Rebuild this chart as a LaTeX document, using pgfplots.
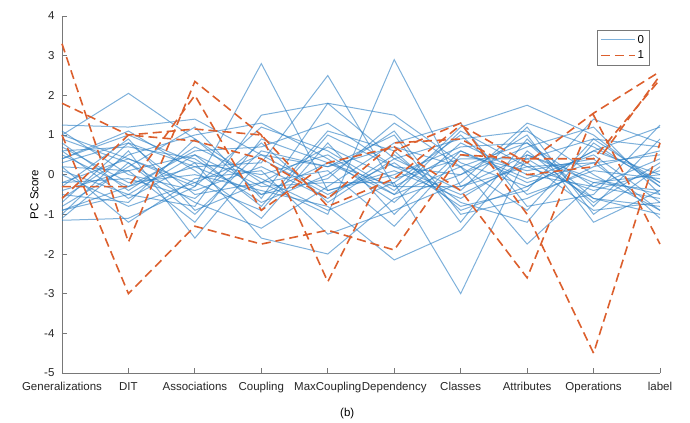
\documentclass[border=0pt]{standalone}
\usepackage{pgfplots}
\pgfplotsset{compat=1.18}
\usepackage{fontspec}
\setmainfont{Liberation Sans}
\definecolor{mblue}{RGB}{40,125,195}
\definecolor{morange}{RGB}{220,95,45}
\definecolor{axgray}{RGB}{120,120,120}
\begin{document}
\begin{tikzpicture}
\begin{axis}[
  name=ax,
  width=598pt, height=357pt, scale only axis,
  xmin=1, xmax=10, ymin=-5, ymax=4,
  axis lines*=left,
  axis line style={axgray, line width=0.9pt},
  tick style={axgray, line width=0.9pt},
  tick align=inside,
  major tick length=5pt,
  xtick={1,...,10},
  xticklabels={Generalizations,DIT,Associations,Coupling,MaxCoupling,Dependency,Classes,Attributes,Operations,label},
  ytick={-5,-4,...,4},
  /pgf/number format/assume math mode=true,
  tick label style={font=\fontsize{11.5}{13}\selectfont, text=black!85},
  xticklabel style={yshift=-6pt},
  yticklabel style={xshift=-4pt},
  ylabel={PC Score},
  ylabel style={font=\fontsize{11.5}{13}\selectfont, yshift=-1pt},
  xlabel={(b)},
  xlabel style={font=\fontsize{11.5}{13}\selectfont, at={(axis description cs:0.477,-0.088)}, anchor=north},
  legend style={at={(axis description cs:0.982,0.961)}, anchor=north east,
    draw=axgray, font=\fontsize{11.5}{13}\selectfont, inner sep=3pt, row sep=2pt},
  legend cell align=left,
  legend image code/.code={\draw[#1] (0pt,0pt) -- (34pt,0pt);},
  clip=false,
]
\tikzset{bl/.style={mblue, opacity=0.6, line width=1pt},
         or/.style={morange, line width=1.6pt, dash pattern=on 9pt off 5pt}}
% class 0
\addplot[bl] coordinates {(1,1.00)(2,2.05)(3,0.90)(4,-0.50)(5,0.30)(6,-0.50)(7,0.20)(8,0.80)(9,-0.30)(10,-0.60)};
\addlegendentry{0}
\addplot[bl, forget plot] coordinates {(1,-0.20)(2,0.40)(3,-0.30)(4,2.80)(5,-0.40)(6,0.10)(7,-0.60)(8,0.40)(9,0.90)(10,-0.20)};
\addplot[bl, forget plot] coordinates {(1,0.50)(2,-0.30)(3,0.20)(4,0.30)(5,2.50)(6,-0.30)(7,0.60)(8,-0.20)(9,0.30)(10,0.50)};
\addplot[bl, forget plot] coordinates {(1,0.30)(2,0.80)(3,-0.50)(4,-0.20)(5,-1.00)(6,2.90)(7,-0.30)(8,0.20)(9,-0.40)(10,0.10)};
\addplot[bl, forget plot] coordinates {(1,-0.40)(2,0.10)(3,0.50)(4,-0.30)(5,-0.20)(6,-0.20)(7,-3.00)(8,0.50)(9,-0.10)(10,-0.50)};
\addplot[bl, forget plot] coordinates {(1,0.10)(2,-0.50)(3,-0.80)(4,1.50)(5,1.80)(6,0.40)(7,0.90)(8,1.10)(9,0.00)(10,-0.90)};
\addplot[bl, forget plot] coordinates {(1,-0.80)(2,0.20)(3,1.20)(4,-0.60)(5,1.80)(6,1.50)(7,0.30)(8,-0.30)(9,0.60)(10,1.20)};
\addplot[bl, forget plot] coordinates {(1,0.70)(2,-0.20)(3,0.00)(4,-0.40)(5,-0.80)(6,-2.15)(7,-1.40)(8,0.60)(9,-0.70)(10,0.30)};
\addplot[bl, forget plot] coordinates {(1,-1.15)(2,-1.10)(3,-0.30)(4,1.20)(5,0.60)(6,-0.40)(7,1.20)(8,1.75)(9,1.00)(10,-0.30)};
\addplot[bl, forget plot] coordinates {(1,1.25)(2,1.20)(3,1.40)(4,0.50)(5,0.20)(6,0.70)(7,0.20)(8,-1.75)(9,-0.20)(10,0.00)};
\addplot[bl, forget plot] coordinates {(1,-1.00)(2,0.60)(3,-1.60)(4,0.40)(5,-0.50)(6,0.30)(7,-0.80)(8,-0.40)(9,1.40)(10,0.80)};
\addplot[bl, forget plot] coordinates {(1,0.40)(2,1.00)(3,0.30)(4,-1.60)(5,-2.00)(6,-0.60)(7,0.00)(8,1.00)(9,-1.20)(10,-0.40)};
\addplot[bl, forget plot] coordinates {(1,-0.50)(2,-0.70)(3,0.90)(4,-0.20)(5,0.10)(6,-1.30)(7,0.50)(8,0.10)(9,0.40)(10,-1.10)};
\addplot[bl, forget plot] coordinates {(1,0.90)(2,0.30)(3,-0.70)(4,-1.35)(5,-0.30)(6,0.80)(7,1.30)(8,-0.80)(9,-0.50)(10,1.25)};
\addplot[bl, forget plot] coordinates {(1,-0.90)(2,-0.30)(3,0.60)(4,0.70)(5,1.30)(6,0.20)(7,-0.50)(8,0.30)(9,-0.90)(10,-0.70)};
\addplot[bl, forget plot] coordinates {(1,0.20)(2,-1.20)(3,-0.10)(4,0.10)(5,-1.50)(6,-0.90)(7,-0.20)(8,1.30)(9,0.70)(10,-0.20)};
\addplot[bl, forget plot] coordinates {(1,0.60)(2,0.70)(3,0.40)(4,-0.70)(5,0.00)(6,1.10)(7,-1.00)(8,-0.60)(9,0.20)(10,0.60)};
\addplot[bl, forget plot] coordinates {(1,-0.30)(2,0.90)(3,-0.90)(4,-0.20)(5,0.70)(6,-0.10)(7,0.40)(8,0.40)(9,-0.60)(10,-0.80)};
\addplot[bl, forget plot] coordinates {(1,1.10)(2,0.00)(3,-0.40)(4,0.20)(5,-0.60)(6,0.50)(7,-0.70)(8,-1.20)(9,0.80)(10,-0.30)};
\addplot[bl, forget plot] coordinates {(1,-0.60)(2,0.50)(3,1.00)(4,1.30)(5,0.40)(6,-0.70)(7,0.80)(8,0.00)(9,-0.30)(10,0.40)};
\addplot[bl, forget plot] coordinates {(1,0.00)(2,-0.80)(3,-0.20)(4,-0.90)(5,1.00)(6,0.20)(7,0.00)(8,0.70)(9,1.20)(10,-0.50)};
\addplot[bl, forget plot] coordinates {(1,0.80)(2,-0.40)(3,0.70)(4,-0.10)(5,-0.90)(6,-0.20)(7,1.00)(8,-0.50)(9,0.10)(10,-0.10)};
\addplot[bl, forget plot] coordinates {(1,-1.10)(2,0.30)(3,-1.00)(4,0.60)(5,0.20)(6,1.00)(7,-1.20)(8,0.90)(9,-0.80)(10,0.90)};
\addplot[bl, forget plot] coordinates {(1,0.40)(2,1.10)(3,0.10)(4,-1.10)(5,0.80)(6,-1.00)(7,0.60)(8,-0.10)(9,0.50)(10,-0.70)};
\addplot[bl, forget plot] coordinates {(1,-0.20)(2,-0.10)(3,-0.60)(4,0.80)(5,-0.70)(6,0.40)(7,-0.40)(8,1.20)(9,-1.00)(10,0.20)};
\addplot[bl, forget plot] coordinates {(1,0.60)(2,-0.60)(3,0.30)(4,0.00)(5,0.50)(6,-0.50)(7,1.10)(8,0.20)(9,0.30)(10,-0.90)};
\addplot[bl, forget plot] coordinates {(1,-0.70)(2,0.80)(3,0.20)(4,-0.50)(5,-0.10)(6,1.30)(7,0.20)(8,-0.90)(9,0.90)(10,0.70)};
\addplot[bl, forget plot] coordinates {(1,0.20)(2,0.10)(3,-1.20)(4,0.90)(5,0.30)(6,-0.30)(7,-0.30)(8,0.50)(9,-0.20)(10,-0.40)};
\addplot[bl, forget plot] coordinates {(1,-0.90)(2,-0.50)(3,0.50)(4,-0.80)(5,1.10)(6,0.60)(7,-0.90)(8,-0.30)(9,0.60)(10,0.00)};
\addplot[bl, forget plot] coordinates {(1,1.00)(2,0.40)(3,-0.20)(4,0.50)(5,-0.40)(6,0.00)(7,0.70)(8,0.80)(9,-0.60)(10,-1.00)};
% class 1
\addplot[or] coordinates {(1,3.30)(2,-1.70)(3,2.35)(4,1.00)(5,-2.70)(6,0.60)(7,1.30)(8,-1.00)(9,-4.50)(10,0.80)};
\addlegendentry{1}
\addplot[or, forget plot] coordinates {(1,1.80)(2,1.00)(3,1.15)(4,1.00)(5,-0.80)(6,-0.10)(7,1.25)(8,0.30)(9,1.55)(10,2.60)};
\addplot[or, forget plot] coordinates {(1,1.00)(2,-3.00)(3,-1.30)(4,-1.75)(5,-1.40)(6,-1.90)(7,0.50)(8,0.40)(9,0.40)(10,2.40)};
\addplot[or, forget plot] coordinates {(1,-0.30)(2,-0.30)(3,2.00)(4,-0.90)(5,0.30)(6,0.70)(7,-0.40)(8,-2.60)(9,1.50)(10,-1.75)};
\addplot[or, forget plot] coordinates {(1,-0.60)(2,1.00)(3,0.85)(4,0.40)(5,-0.60)(6,0.80)(7,0.90)(8,0.00)(9,0.20)(10,2.50)};
\end{axis}
\path ([shift={(-62pt,-50pt)}]ax.south west) rectangle ([shift={(30pt,16pt)}]ax.north east);
\end{tikzpicture}
\end{document}
